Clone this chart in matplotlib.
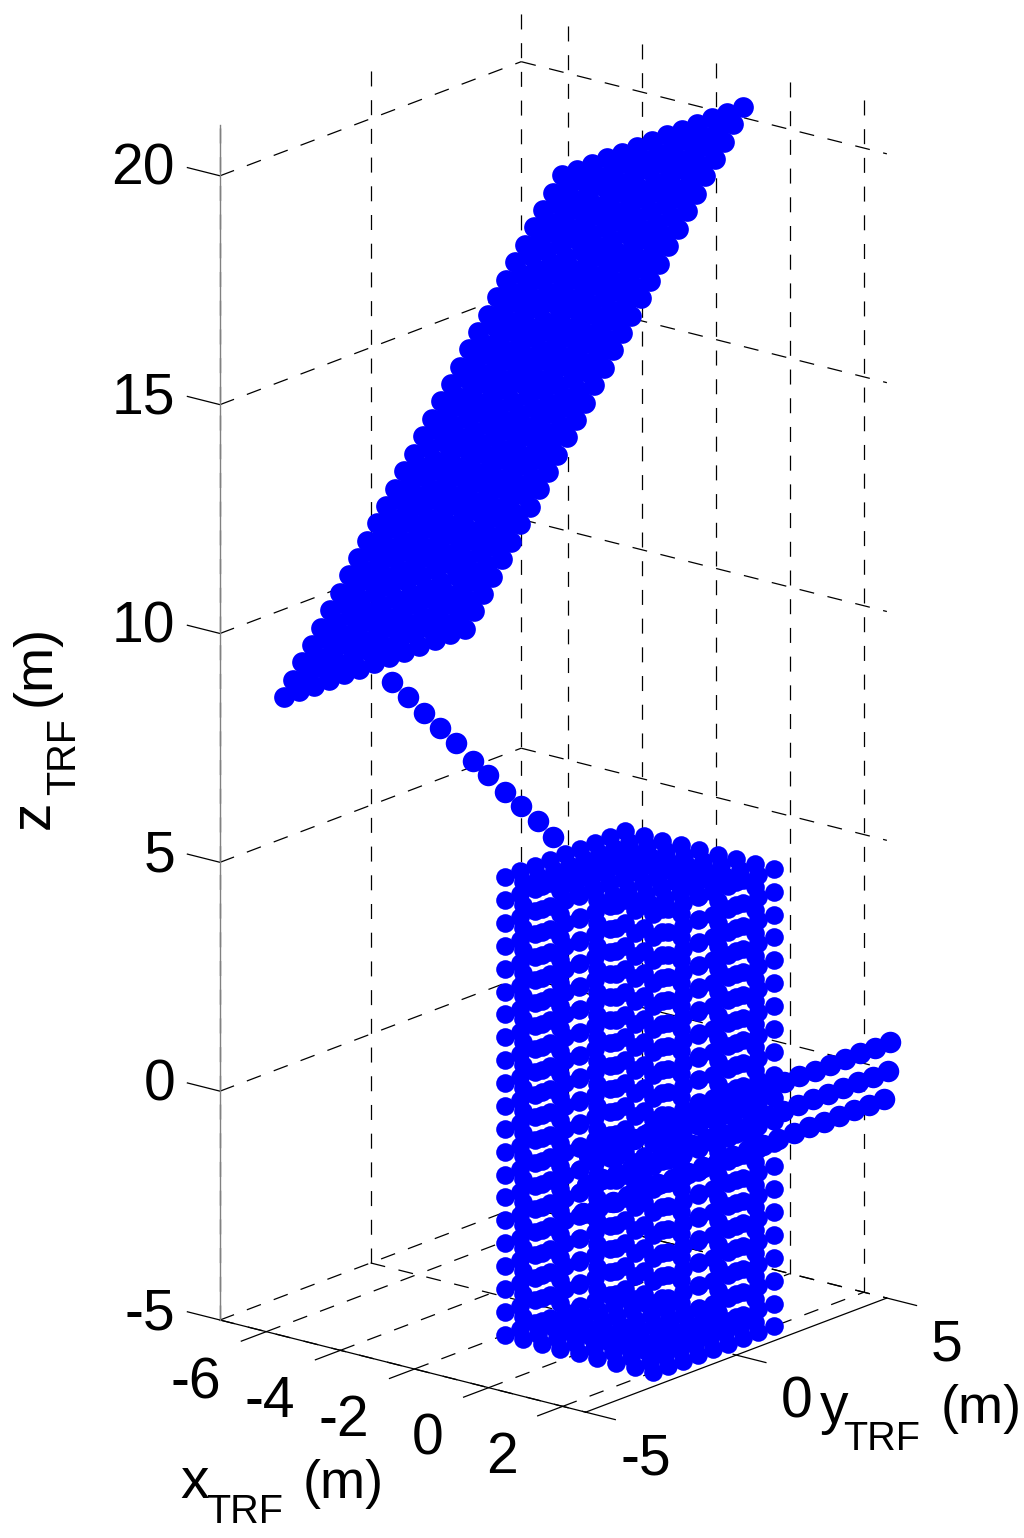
import matplotlib
matplotlib.use('Agg')
import matplotlib.pyplot as plt
import numpy as np
from mpl_toolkits.mplot3d import proj3d

plt.rcParams['font.family'] = ['Liberation Sans', 'DejaVu Sans']
plt.rcParams['lines.scale_dashes'] = False

# axis limits and ticks
x_lim = [-7.25, 2.62]
y_lim = [-5, 5]
z_lim = [-5, 21.11]
x_ticks = [-6, -4, -2, 0, 2]
y_ticks = [-5, 0, 5]
z_ticks = [-5, 0, 5, 10, 15, 20]

# tower: box surface on a 0.5 m lattice
tower_side = [-2, -1.5, -1, -0.5, 0, 0.5, 1, 1.5, 2]
tower_z = [-5, -4.5, -4, -3.5, -3, -2.5, -2, -1.5, -1, -0.5, 0,
           0.5, 1, 1.5, 2, 2.5, 3, 3.5, 4, 4.5, 5]

# blade: span stations and chord stations
blade_span_x = [-7.15, -6.9, -6.65, -6.4, -6.15, -5.9, -5.65, -5.4, -5.15, -4.9, -4.65,
                -4.4, -4.15, -3.9, -3.65, -3.4, -3.15, -2.9, -2.65, -2.4, -2.15,
                -1.9, -1.65, -1.4, -1.15, -0.9, -0.65, -0.4, -0.15, 0.1, 0.35]
blade_span_z = [8.13, 8.56, 8.99, 9.42, 9.85, 10.29, 10.72, 11.15, 11.58, 12.01, 12.44,
                12.87, 13.3, 13.73, 14.16, 14.6, 15.03, 15.46, 15.89, 16.32, 16.75,
                17.18, 17.61, 18.04, 18.47, 18.91, 19.34, 19.77, 20.2, 20.63, 21.06]
blade_chord_y = [-3, -2.5, -2, -1.5, -1, -0.5, 0, 0.5, 1, 1.5, 2, 2.5, 3]

# link between tower top and blade
link_x = [-3, -3, -3, -3, -3, -3, -3, -3, -3, -3, -3]
link_y = [-4.51, -3.98, -3.44, -2.91, -2.38, -1.84, -1.34, -0.78, -0.24, 0.32, 0.82]
link_z = [9.68, 9.22, 8.74, 8.28, 7.82, 7.29, 6.86, 6.35, 5.91, 5.44, 4.97]

# arm through the tower: three rows along y
arm_y = [-5, -4.5, -4, -3.5, -3, -2.5, -2, -1.5, -1, -0.5, 0,
         0.5, 1, 1.5, 2, 2.5, 3, 3.5, 4, 4.5, 5]
arm_x = [2.7, 2.65, 2.54]
arm_z = [0.61, -0.03, -0.665]

tower_xs, tower_ys, tower_zs = [], [], []
for px in tower_side:
    for py in tower_side:
        for pz in tower_z:
            if px in (-2, 2) or py in (-2, 2) or pz in (-5, 5):
                tower_xs.append(px); tower_ys.append(py); tower_zs.append(pz)
blade_xs, blade_ys, blade_zs = [], [], []
for px, pz in zip(blade_span_x, blade_span_z):
    for py in blade_chord_y:
        blade_xs.append(px); blade_ys.append(py); blade_zs.append(pz)
xs, ys, zs = list(link_x), list(link_y), list(link_z)
for px, pz in zip(arm_x, arm_z):
    for py in arm_y:
        xs.append(px); ys.append(py); zs.append(pz)

fig = plt.figure(figsize=(10.24, 15.38), dpi=100)
ax = fig.add_axes([0, 0, 1, 1], projection='3d', proj_type='ortho')
ax.computed_zorder = False
ax.view_init(elev=18.0, azim=-50.8)
ax.set_xlim(x_lim[0], x_lim[1], view_margin=0)
ax.set_ylim(y_lim[0], y_lim[1], view_margin=0)
ax.set_zlim(z_lim[0], z_lim[1], view_margin=0)
ax.set_box_aspect((471.3, 476, 1255))
ax.set_axis_off()


def to_px(x, y, z):
    a, b, _ = proj3d.proj_transform(x, y, z, ax.get_proj())
    return ax.transData.transform((a, b))


def label(px, py, s, **kw):
    # px, py measured from the top left of the picture
    fig.text(px / 1024, 1 - py / 1538, s, va='baseline', **kw)


# fit the box to the figure: z axis runs from y=125 to y=1320 at x=220
ax.apply_aspect()
p0 = to_px(x_lim[0], y_lim[0], z_lim[0])
p1 = to_px(x_lim[0], y_lim[0], z_lim[1])
side = 1024 * 1195 / abs(p1[1] - p0[1])
ax.set_position([0, 0, side / 1024, side / 1538])
ax.apply_aspect()
p0 = to_px(x_lim[0], y_lim[0], z_lim[0])
ax.set_position([(220 - p0[0]) / 1024, (1538 - 1320 - p0[1]) / 1538, side / 1024, side / 1538])
ax.apply_aspect()

dash = dict(color='black', lw=0.9, ls=(0, (10.8, 9.87)), zorder=1, clip_on=False)
solid = dict(color='black', lw=0.9, zorder=2, clip_on=False)

for t in x_ticks:
    ax.plot([t, t], y_lim, [z_lim[0], z_lim[0]], **dash)
    ax.plot([t, t], [y_lim[1], y_lim[1]], z_lim, **dash)
    ax.plot([t, t], [y_lim[0] - 0.83, y_lim[0]], [z_lim[0], z_lim[0]], **solid)
    p = to_px(t, y_lim[0], z_lim[0])
    label(p[0] - 45, 1538 - p[1] + 67, str(t), fontsize=41, ha='right')
for t in y_ticks:
    ax.plot(x_lim, [t, t], [z_lim[0], z_lim[0]], **dash)
    ax.plot([x_lim[0], x_lim[0]], [t, t], z_lim, **dash)
    ax.plot([x_lim[1], x_lim[1] + 0.8], [t, t], [z_lim[0], z_lim[0]], **solid)
    p = to_px(x_lim[1], t, z_lim[0])
    label(p[0] + 60, 1538 - p[1] + 62, str(t), fontsize=41, ha='center')
for t in z_ticks:
    ax.plot([x_lim[0], x_lim[0]], y_lim, [t, t], **dash)
    ax.plot(x_lim, [y_lim[1], y_lim[1]], [t, t], **dash)
    ax.plot([x_lim[0] - 0.88, x_lim[0]], [y_lim[0], y_lim[0]], [t, t], **solid)
    p = to_px(x_lim[0], y_lim[0], t)
    label(p[0] - 45, 1538 - p[1] + 9, str(t), fontsize=41, ha='right')

# box edges
ax.plot(x_lim, [y_lim[0], y_lim[0]], [z_lim[0], z_lim[0]], **solid)
ax.plot([x_lim[1], x_lim[1]], y_lim, [z_lim[0], z_lim[0]], **solid)
ax.plot([x_lim[0], x_lim[0]], [y_lim[0], y_lim[0]], z_lim, color='0.5', lw=1, zorder=2, clip_on=False)

ax.scatter(tower_xs, tower_ys, tower_zs, s=180, c='#0000ff', linewidths=0, depthshade=False, zorder=3)
ax.scatter(blade_xs, blade_ys, blade_zs, s=222, c='#0000ff', linewidths=0, depthshade=False, zorder=3)
ax.scatter(xs, ys, zs, s=240, c='#0000ff', linewidths=0, depthshade=False, zorder=3)

# axis names, main letter and subscript set apart
label(180, 1498, 'x', fontsize=41, ha='left')
label(206, 1523, 'TRF', fontsize=28.5, ha='left')
label(303, 1498, '(m)', fontsize=39, ha='left')
label(820, 1423, 'y', fontsize=41, ha='left')
label(843, 1450, 'TRF', fontsize=28.5, ha='left')
label(941, 1423, '(m)', fontsize=39, ha='left')
rot = dict(rotation=90, rotation_mode='anchor', ha='left')
label(49, 829, 'z', fontsize=41, **rot)
label(75, 795, 'TRF', fontsize=28.5, **rot)
label(50, 706, '(m)', fontsize=39, **rot)

fig.savefig('out.png', dpi=100)
